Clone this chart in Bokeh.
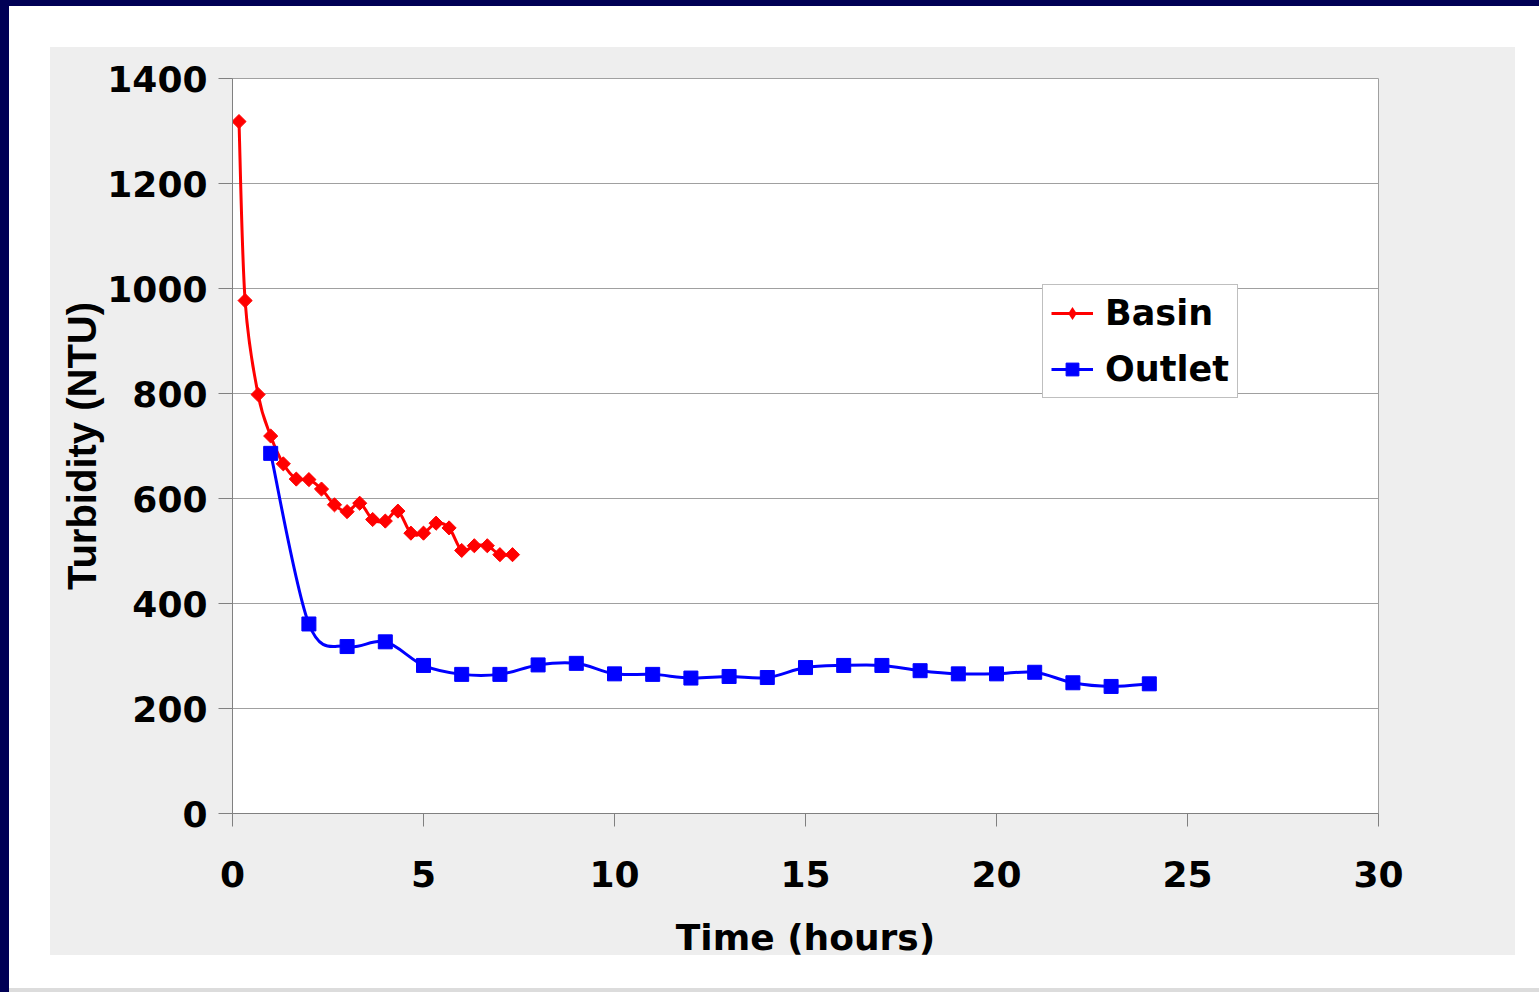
import math
from bokeh.plotting import figure
from bokeh.models import (Legend, LegendItem, ColumnDataSource, Range1d, FixedTicker)
from bokeh.embed import file_html
from bokeh.resources import INLINE

# ---- data ----
basin_hours = [0.17, 0.33, 0.67, 1.0, 1.33, 1.67, 2.0, 2.33, 2.67, 3.0, 3.33, 3.67,
               4.0, 4.33, 4.67, 5.0, 5.33, 5.67, 6.0, 6.33, 6.67, 7.0, 7.33]
basin_ntu = [1318, 977, 798, 719, 666, 637, 636, 618, 588, 575, 591, 560,
             557, 576, 534, 534, 553, 544, 501, 510, 510, 493, 493]
outlet_hours = [1, 2, 3, 4, 5, 6, 7, 8, 9, 10, 11, 12, 13, 14, 15, 16, 17, 18,
                19, 20, 21, 22, 23, 24]
outlet_ntu = [686, 361, 318, 327, 282, 265, 265, 283, 286, 266, 265, 258, 261,
              259, 278, 282, 282, 272, 266, 266, 269, 249, 242, 247]
x_ticks = [0, 5, 10, 15, 20, 25, 30]
y_ticks = [0, 200, 400, 600, 800, 1000, 1200, 1400]
series_names = ["Basin", "Outlet"]
x_title = "Time (hours)"
y_title = "Turbidity (NTU)"


def smooth_source(xs, ys):
    """Cubic Bezier segments (Catmull-Rom style) through the data points."""
    n = len(xs)
    d = {k: [] for k in ["x0", "y0", "x1", "y1", "cx0", "cy0", "cx1", "cy1"]}
    for i in range(n - 1):
        xp, yp = (xs[i - 1], ys[i - 1]) if i > 0 else (xs[i], ys[i])
        xn, yn = (xs[i + 2], ys[i + 2]) if i + 2 < n else (xs[i + 1], ys[i + 1])
        d["x0"].append(xs[i]); d["y0"].append(ys[i])
        d["x1"].append(xs[i + 1]); d["y1"].append(ys[i + 1])
        d["cx0"].append(xs[i] + (xs[i + 1] - xp) / 6.0)
        d["cy0"].append(ys[i] + (ys[i + 1] - yp) / 6.0)
        d["cx1"].append(xs[i + 1] - (xn - xs[i]) / 6.0)
        d["cy1"].append(ys[i + 1] - (yn - ys[i]) / 6.0)
    return ColumnDataSource(d)


W, H = 1539, 992
p = figure(width=W, height=H, x_range=Range1d(0, 30), y_range=Range1d(0, 1400),
           output_backend="svg", toolbar_location=None,
           min_border_left=232, min_border_right=161,
           min_border_top=78, min_border_bottom=179)
# transparent canvas border; the page sheet (navy edge, white sheet, grey panel)
# is painted as the element's CSS background underneath
p.border_fill_alpha = 0.0
p.styles = {
    "background-color": "#000055",
    "background-image": ("linear-gradient(#eeeeee, #eeeeee), "
                         "linear-gradient(#ffffff, #ffffff), "
                         "linear-gradient(#dcdcdc, #dcdcdc)"),
    "background-position": "50px 47px, 9px 6px, 9px 988px",
    "background-size": "1465px 908px, 1530px 982px, 1530px 4px",
    "background-repeat": "no-repeat",
}
p.background_fill_color = "white"
p.outline_line_color = "#a0a0a0"
p.outline_line_width = 1

# axes
for ax in (p.xaxis[0], p.yaxis[0]):
    ax.axis_line_color = "#808080"
    ax.axis_line_width = 1
    ax.major_tick_line_color = "#808080"
    ax.major_tick_in = 0
    ax.minor_tick_line_color = None
    ax.major_label_text_font = "DejaVu Sans"
    ax.major_label_text_font_style = "bold"
    ax.major_label_text_font_size = "36px"
    ax.major_label_text_color = "black"
    ax.axis_label_text_font_style = "bold"
    ax.axis_label_text_color = "black"

p.xaxis.ticker = FixedTicker(ticks=x_ticks)
p.yaxis.ticker = FixedTicker(ticks=y_ticks)
p.xaxis.major_tick_out = 13
p.yaxis.major_tick_out = 14
p.xaxis.major_label_standoff = 34
p.yaxis.major_label_standoff = 11

p.xaxis.axis_label = x_title
p.xaxis.axis_label_text_font = "DejaVu Sans"
p.xaxis.axis_label_text_font_size = "36px"
p.xaxis.axis_label_standoff = 27
p.yaxis.axis_label = y_title
p.yaxis.axis_label_text_font = "Liberation Sans"
p.yaxis.axis_label_text_font_size = "40px"
p.yaxis.axis_label_standoff = 0

p.xgrid.grid_line_color = None
p.ygrid.grid_line_color = "#a0a0a0"
p.ygrid.grid_line_width = 1

# series
basin_src = ColumnDataSource(dict(x=basin_hours, y=basin_ntu))
outlet_src = ColumnDataSource(dict(x=outlet_hours, y=outlet_ntu))

rb = p.bezier(x0="x0", y0="y0", x1="x1", y1="y1", cx0="cx0", cy0="cy0",
              cx1="cx1", cy1="cy1", source=smooth_source(basin_hours, basin_ntu),
              line_color="#ff0000", line_width=3)
sb = p.scatter("x", "y", source=basin_src, marker="square", angle=math.pi / 4,
               size=10, fill_color="#ff0000", line_color="#ff0000")
# legend key: a diamond marker of zero size in the plot (legend sizes it itself)
sb_key = p.scatter("x", "y", source=basin_src, marker="diamond", size=0,
                   fill_color="#ff0000", line_color=None)
ro = p.bezier(x0="x0", y0="y0", x1="x1", y1="y1", cx0="cx0", cy0="cy0",
              cx1="cx1", cy1="cy1", source=smooth_source(outlet_hours, outlet_ntu),
              line_color="#0000ff", line_width=3)
so = p.scatter("x", "y", source=outlet_src, marker="square", size=14,
               fill_color="#0000ff", line_color="#0000ff")

legend = Legend(items=[LegendItem(label=series_names[0], renderers=[rb, sb_key]),
                       LegendItem(label=series_names[1], renderers=[ro, so])],
                location=(810, 415))
legend.label_text_font = "DejaVu Sans"
legend.label_text_font_style = "bold"
legend.label_text_font_size = "35px"
legend.label_text_color = "black"
legend.border_line_color = "#808080"
legend.border_line_width = 1
legend.background_fill_color = "white"
legend.background_fill_alpha = 1.0
legend.glyph_width = 42
legend.glyph_height = 32
legend.label_height = 40
legend.spacing = 16
legend.padding = 8
legend.margin = 0
legend.label_standoff = 12
p.add_layout(legend)

open("out.html", "w").write(file_html(p, INLINE))
